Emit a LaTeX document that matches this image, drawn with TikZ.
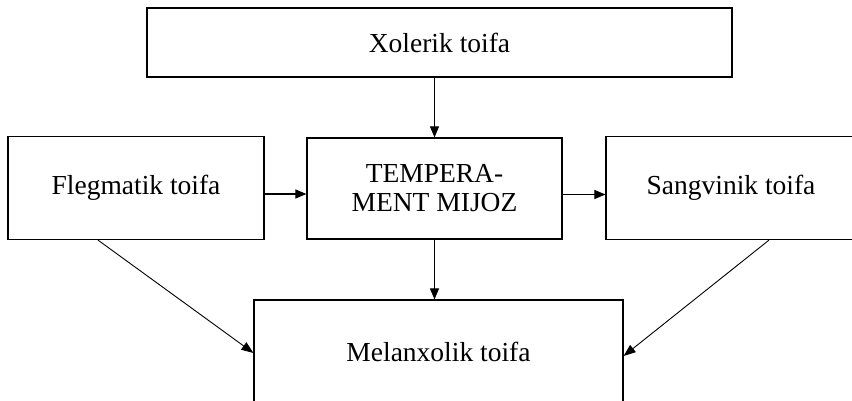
\documentclass[tikz,border=0pt]{standalone}
\usepackage{fontspec}
\setmainfont{Liberation Serif}
\usetikzlibrary{arrows.meta}
\begin{document}
\begin{tikzpicture}[x=1pt,y=-1pt,
  box/.style={draw,line width=1.2pt,rectangle,inner sep=0pt,align=center,font=\fontsize{27.5}{29}\selectfont},
  arr/.style={line width=1.1pt,-{Triangle[length=11pt,width=9pt]}},
  dline/.style={line width=0.9pt,-{Triangle[length=12pt,width=9pt]}}]
\useasboundingbox (0,0) rectangle (852,401);
\clip (0,0) rectangle (852,401);
\fill[white] (0,0) rectangle (852,401);
\node[box,minimum width=585pt,minimum height=69pt] (top) at (439.5,42.5) {Xolerik toifa};
\node[box,minimum width=256pt,minimum height=103pt] (fleg) at (136,188) {Flegmatik toifa};
\node[box,minimum width=255pt,minimum height=101pt] (temp) at (434.5,188.5) {TEMPERA-\\MENT MIJOZ};
\node[box,minimum width=250pt,minimum height=103pt] (sang) at (731,188) {Sangvinik toifa};
\node[box,minimum width=369pt,minimum height=104pt] (mel) at (438.5,352) {Melanxolik toifa};
\draw[arr] (top.south -| temp.north) -- (temp.north);
\draw[arr] ([yshift=-6pt]fleg.east) -- ([yshift=-6pt]fleg.east -| temp.west);
\draw[arr] ([yshift=-6pt]temp.east) -- ([yshift=-6pt]temp.east -| sang.west);
\draw[arr] (temp.south) -- (temp.south |- mel.north);
\draw[dline] ([xshift=-38pt]fleg.south) -- ([yshift=-1pt]mel.west);
\draw[dline] ([xshift=38pt]sang.south) -- ([yshift=-4pt]mel.east);
\end{tikzpicture}
\end{document}
